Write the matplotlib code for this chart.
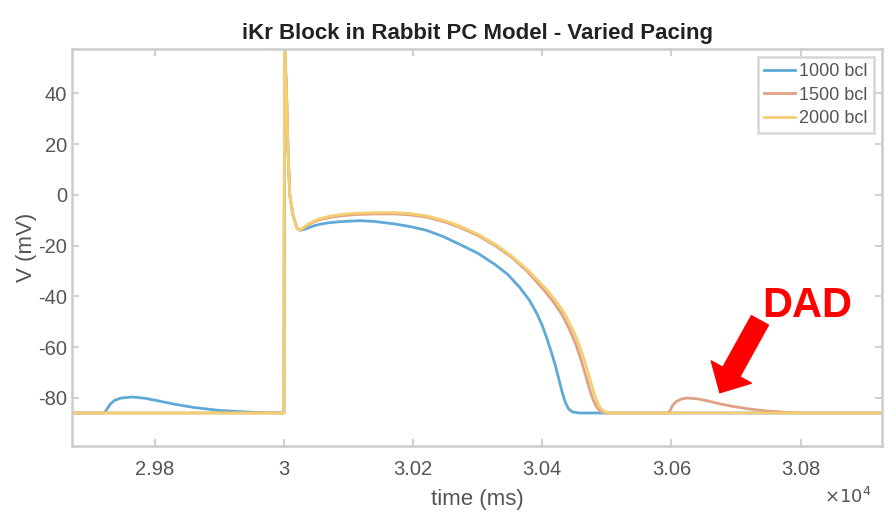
import numpy as np
import matplotlib
matplotlib.use("Agg")
from matplotlib import pyplot as plt
from matplotlib.ticker import FuncFormatter

plt.rcParams['font.family'] = ['Liberation Sans', 'DejaVu Sans']
plt.rcParams['axes.unicode_minus'] = False

# time (ms) / voltage (mV)
t_1000 = [29672, 29722, 29726, 29731, 29738, 29748, 29766, 29785, 29805, 29830, 29860,
          29900, 29950, 29999, 30000, 30001, 30004, 30006, 30009, 30014, 30020, 30025,
          30032, 30040, 30048, 30056, 30070, 30087, 30100, 30118, 30140, 30169, 30195,
          30221, 30247, 30272, 30300, 30327, 30347, 30365, 30380, 30392, 30400, 30407,
          30414, 30420, 30426, 30431, 30436, 30441, 30447, 30458, 30930]
v_1000 = [-86, -86, -84.5, -82.5, -81, -80.1, -79.7, -80.2, -81.2, -82.5, -83.8,
          -85, -85.7, -86, -86, 60, 40, 20, 0, -8, -13, -14,
          -13.6, -12.8, -12.1, -11.6, -11.0, -10.6, -10.4, -10.2, -10.5, -11.4, -12.5,
          -14, -16.5, -19.5, -23, -27.5, -31.5, -36.5, -41.5, -47, -51.5, -56.5,
          -62, -67, -73, -78, -82, -84.5, -85.6, -86, -86]

t_1500 = [29672, 29999, 30000, 30001, 30004, 30006, 30009, 30014, 30020, 30025,
          30032, 30040, 30048, 30056, 30070, 30087, 30110, 30140, 30169, 30195, 30221,
          30247, 30272, 30300, 30327, 30352, 30376, 30392, 30404, 30418, 30430, 30443,
          30452, 30460, 30467, 30473, 30479, 30485, 30491, 30502, 30594, 30598, 30602,
          30607, 30614, 30624, 30640, 30659, 30677, 30695, 30720, 30747, 30775, 30800,
          30930]
v_1500 = [-86, -86, -86, 60, 40, 20, 0, -8, -13, -14,
          -12.8, -11.5, -10.5, -9.8, -9.0, -8.3, -7.8, -7.55, -7.5, -7.9, -8.8,
          -10.5, -12.8, -16, -20, -24.5, -30, -34.5, -38, -42.5, -47, -53.5,
          -59, -65, -71, -76.5, -81, -84, -85.5, -86, -86, -85, -83,
          -81.6, -80.6, -80.1, -80.4, -81.4, -82.5, -83.4, -84.4, -85.2, -85.7, -86,
          -86]

t_2000 = [29672, 29999, 30000, 30001, 30004, 30006, 30009, 30014, 30020, 30025,
          30032, 30040, 30048, 30056, 30070, 30087, 30110, 30140, 30169, 30195, 30221,
          30247, 30272, 30300, 30327, 30352, 30379, 30396, 30409, 30423, 30435, 30448,
          30457, 30465, 30472, 30478, 30484, 30490, 30496, 30507, 30930]
v_2000 = [-86, -86, -86, 60, 40, 20, 0, -8, -13, -14,
          -12.6, -11.2, -10.1, -9.4, -8.5, -7.8, -7.3, -7.05, -7.0, -7.4, -8.3,
          -10.0, -12.3, -15.5, -19.5, -24, -30, -34.5, -38, -42.5, -47, -53.5,
          -59, -65, -71, -76.5, -81, -84, -85.5, -86, -86]

labels = ['1000 bcl', '1500 bcl', '2000 bcl']
colors = ['#5fa9d6', '#e0a285', '#f4cf72']

fig = plt.figure(figsize=(8.9, 5.19), dpi=100)
ax = fig.add_axes([0.081, 0.1407, 0.91, 0.765])

for t, v, lab, c in zip([t_1000, t_1500, t_2000], [v_1000, v_1500, v_2000], labels, colors):
    ax.plot(t, v, color=c, lw=2.0, label=lab)

ax.set_xlim(29672, 30926)
ax.set_ylim(-99, 57.5)
ax.set_yticks([-80, -60, -40, -20, 0, 20, 40])
ax.set_xticks([29800, 30000, 30200, 30400, 30600, 30800])
ax.xaxis.set_major_formatter(FuncFormatter(lambda x, p: '%g' % (x / 1e4)))

for s in ax.spines.values():
    s.set_color('#cccccc')
    s.set_linewidth(1.8)
ax.tick_params(direction='in', length=5, width=1.2, color='#c8c8c8',
               labelcolor='#555555', labelsize=14.5, top=True, right=True)
ax.tick_params(axis='x', pad=10)

ax.set_title('iKr Block in Rabbit PC Model - Varied Pacing', fontsize=16,
             fontweight='bold', color='#222222', pad=7)
ax.set_xlabel('time (ms)', fontsize=16, color='#555555', labelpad=7)
ax.set_ylabel('V (mV)', fontsize=16, color='#555555', labelpad=1)
fig.text(0.952, 0.03, r'$\times10^4$', fontsize=13, color='#555555', ha='center')

leg = ax.legend(loc='upper right', fontsize=13, frameon=True, fancybox=False,
                handlelength=1.7, handletextpad=0.25, borderaxespad=0.45,
                labelspacing=0.35, borderpad=0.35)
leg.get_frame().set_edgecolor('#cccccc')
leg.get_frame().set_linewidth(1.8)
for txt in leg.get_texts():
    txt.set_color('#555555')

ax.annotate('', xy=(30675, -78), xytext=(30737, -49.5),
            arrowprops=dict(facecolor='#ff0000', edgecolor='#ff0000',
                            width=14, headwidth=33, headlength=17))
ax.text(30811, -44, 'DAD', color='#ff0000', fontsize=30, fontweight='bold',
        ha='center', va='center')

fig.savefig('out.png', dpi=100)
